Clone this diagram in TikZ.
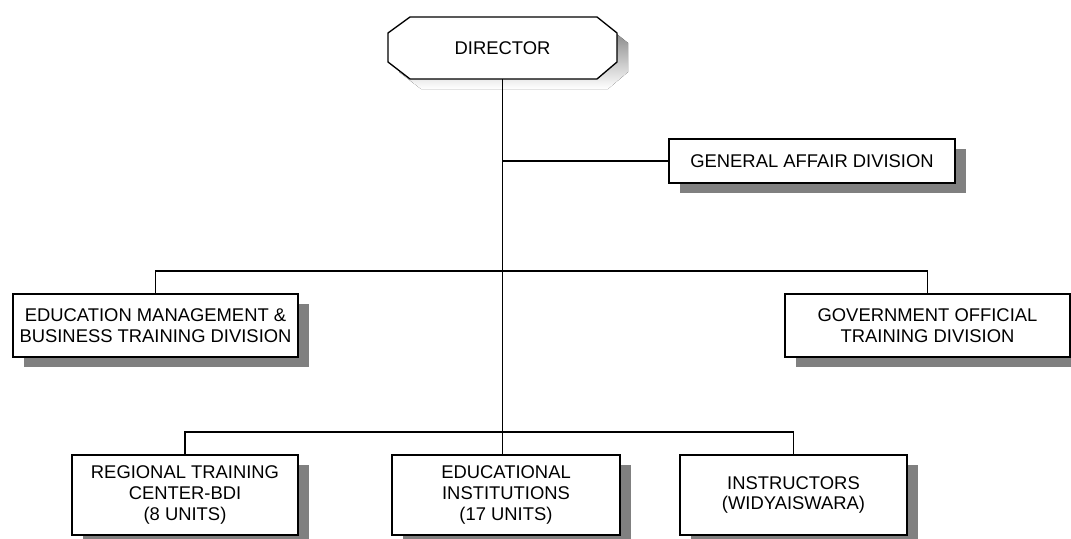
\documentclass[tikz,border=0pt]{standalone}
\usepackage{fontspec}
\setmainfont{Liberation Sans}
\usetikzlibrary{shadows}
\definecolor{shade}{HTML}{808080}
\begin{document}
\begin{tikzpicture}[x=0.75pt,y=-0.75pt,
  label font/.style={font=\fontsize{13.8}{15.4}\selectfont},
  unit/.style={draw, line width=1pt, fill=white, align=center, inner sep=0pt,
    label font,
    general shadow={shadow xshift=8.25pt, shadow yshift=-7.5pt, fill=shade}},
  link/.style={line width=0.9pt}]
\useasboundingbox (0,0) rectangle (1071,539);
\clip (0,0) rectangle (1071,539);

% director: octagonal head box with its shadow
\fill[shade, shift={(11,10)}] (388,33) -- (410,17) -- (597,17) -- (617,33)
  -- (617,62) -- (597,79) -- (410,79) -- (388,62) -- cycle;
\draw[line width=1pt, fill=white] (388,33) -- (410,17) -- (597,17) -- (617,33)
  -- (617,62) -- (597,79) -- (410,79) -- (388,62) -- cycle;
\node[label font, minimum width=171.75pt, minimum height=46.5pt, inner sep=0pt]
  (dir) at (502.5,48) {DIRECTOR};

% divisions and units
\node[unit, minimum width=214.5pt, minimum height=33pt] (gen) at (812,161)
  {GENERAL AFFAIR DIVISION};
\node[unit, minimum width=213.75pt, minimum height=47.25pt] (emb) at (155.5,325.5)
  {EDUCATION MANAGEMENT \&\\BUSINESS TRAINING DIVISION};
\node[unit, minimum width=213.75pt, minimum height=47.25pt] (gov) at (927.5,325.5)
  {GOVERNMENT OFFICIAL\\TRAINING DIVISION};
\node[unit, minimum width=169.5pt, minimum height=60pt] (rtc) at (185,495)
  {REGIONAL TRAINING\\CENTER-BDI\\(8 UNITS)};
\node[unit, minimum width=171pt, minimum height=60pt] (edu) at (506,495)
  {EDUCATIONAL\\INSTITUTIONS\\(17 UNITS)};
\node[unit, minimum width=170.25pt, minimum height=60pt] (ins) at (793.5,495)
  {INSTRUCTORS\\(WIDYAISWARA)};

% connectors
\coordinate (midbar) at (502,271);
\coordinate (botbar) at (502,432);
\draw[link] (dir.south) -- (dir.south |- edu.north);
\draw[link] (dir.south |- gen.west) -- (gen.west);
\draw[link] (emb.north) |- (midbar) -| (gov.north);
\draw[link] (rtc.north) |- (botbar) -| (ins.north);
\end{tikzpicture}
\end{document}
